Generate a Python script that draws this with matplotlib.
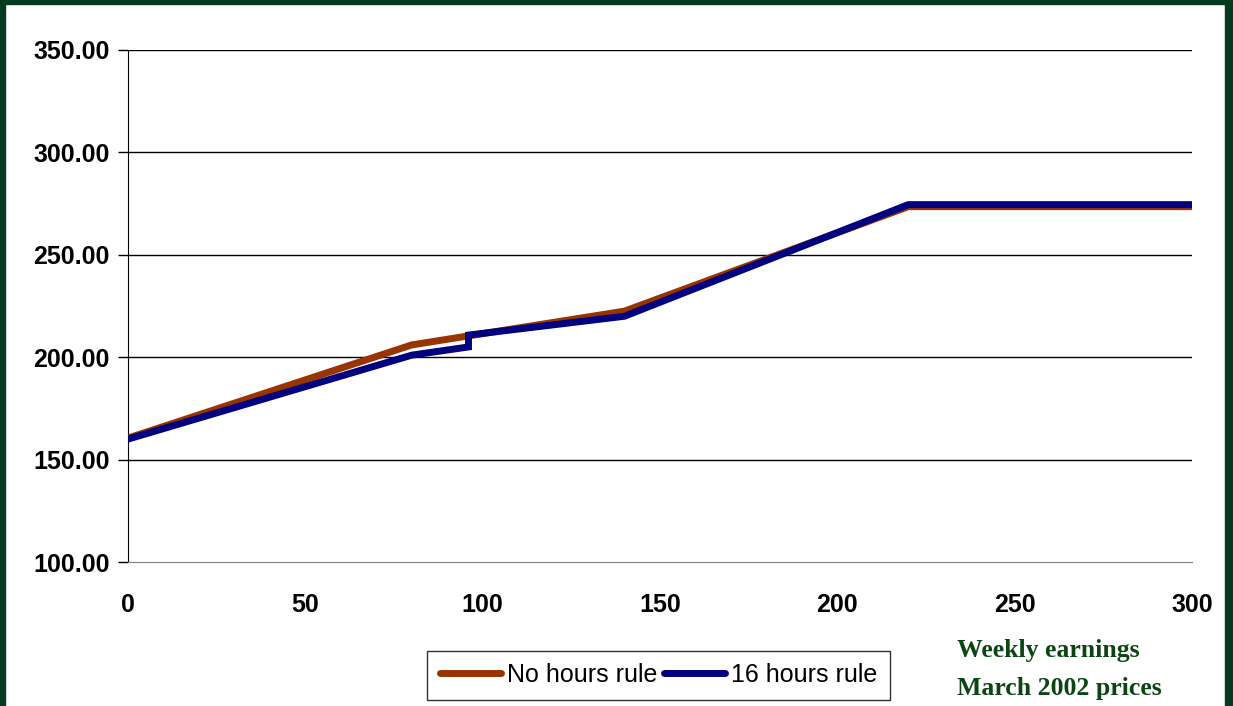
import matplotlib.pyplot as plt
from matplotlib.patches import Rectangle

# weekly earnings vs hours-ish axis (0-300)
no_rule_x = [0, 80, 140, 220, 300]
no_rule_y = [160.5, 206.0, 222.5, 273.5, 273.5]
rule16_x = [0, 80, 96, 96, 140, 220, 300]
rule16_y = [160.0, 201.0, 205.0, 210.8, 220.0, 274.5, 274.5]
yticks = [100, 150, 200, 250, 300, 350]
xticks = [0, 50, 100, 150, 200, 250, 300]

plt.rcParams['font.family'] = ['Liberation Sans', 'DejaVu Sans']

fig = plt.figure(figsize=(12.33, 7.06), dpi=100)
fig.patch.set_facecolor('white')
ax = fig.add_axes([128/1233, 1 - 562/706, (1192-128)/1233, (562-50)/706])

ax.plot(no_rule_x, no_rule_y, color='#993300', lw=5, solid_joinstyle='miter',
        label='No hours rule', zorder=3)
ax.plot(rule16_x, rule16_y, color='#000080', lw=5, solid_joinstyle='miter',
        label='16 hours rule', zorder=4)

ax.set_xlim(0, 300)
ax.set_ylim(100, 350)
ax.set_xticks(xticks)
ax.set_yticks(yticks)
ax.set_yticklabels([f'{v:.2f}' for v in yticks])
for y in yticks[1:]:
    ax.axhline(y, color='black', lw=1, zorder=1)
for s in ['top', 'right']:
    ax.spines[s].set_visible(False)
ax.spines['left'].set_color('black')
ax.spines['bottom'].set_color('#808080')
ax.tick_params(axis='y', length=7, width=1, pad=6, labelsize=18)
ax.tick_params(axis='x', length=0, pad=22, labelsize=18)
for lab in ax.get_xticklabels() + ax.get_yticklabels():
    lab.set_fontweight('bold')

leg = ax.legend(loc='center', bbox_to_anchor=((432+885)/2/1233, 1 - 675/706),
                bbox_transform=fig.transFigure, ncol=2, frameon=True, fancybox=False,
                fontsize=18, handlelength=2.45, handletextpad=0.25, columnspacing=0.25,
                borderpad=0.5, borderaxespad=0)
leg.get_frame().set_edgecolor('black')
leg.get_frame().set_linewidth(1)
for h in leg.get_lines():
    h.set_solid_capstyle('round')

fig.text(957/1233, 1 - 651/706, 'Weekly earnings', family='Liberation Serif',
         fontweight='bold', fontsize=18.5, color='#0b4514', va='center')
fig.text(957/1233, 1 - 688/706, 'March 2002 prices', family='Liberation Serif',
         fontweight='bold', fontsize=18.5, color='#0b4514', va='center')

# dark green frame
green = '#043a1e'
fig.patches.append(Rectangle((0, 0), 5/1233, 1, transform=fig.transFigure, color=green))
fig.patches.append(Rectangle((1 - 8/1233, 0), 8/1233, 1, transform=fig.transFigure, color=green))
fig.patches.append(Rectangle((0, 1 - 4/706), 1, 4/706, transform=fig.transFigure, color=green))

fig.savefig('out.png', dpi=100)
